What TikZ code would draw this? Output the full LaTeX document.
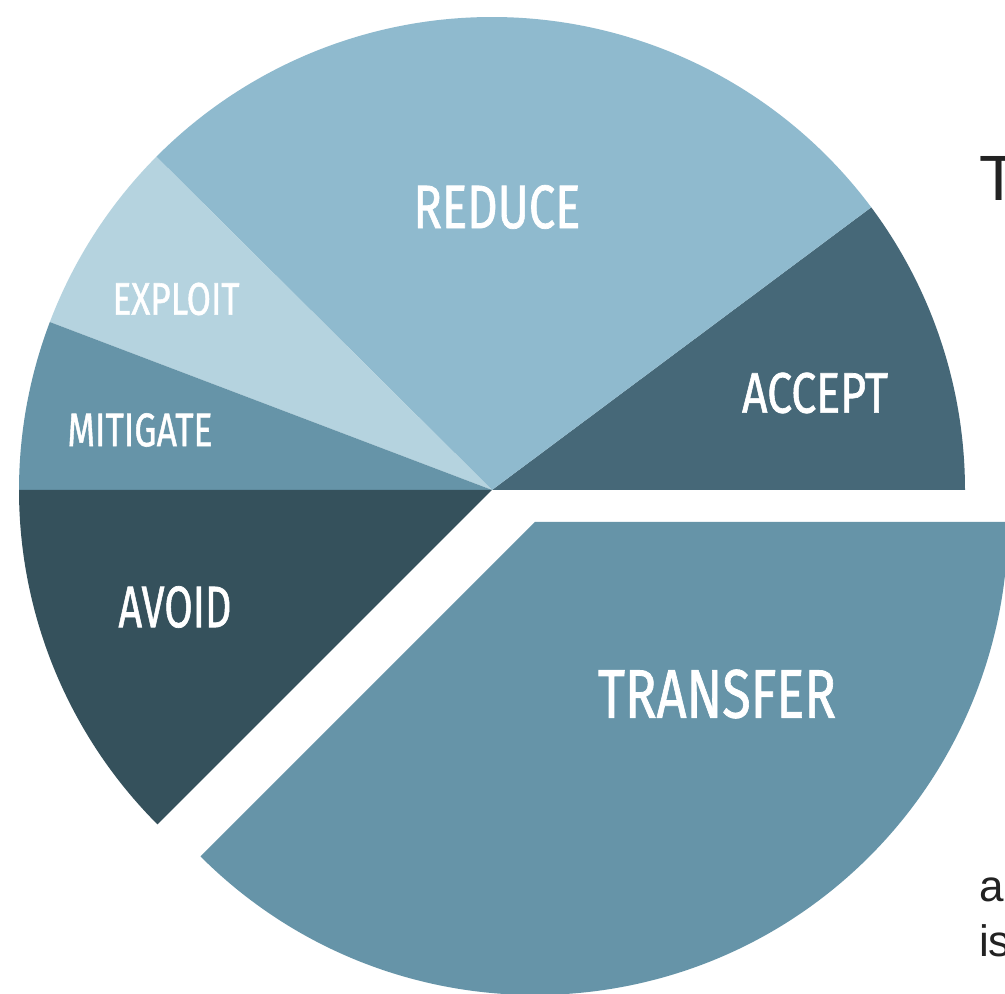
\documentclass[tikz,border=0pt]{standalone}
\usepackage{fontspec}
\setmainfont{Fira Sans}
\newfontfamily\lblfont{Fira Sans}[UprightFeatures={FakeBold=1.2}]
\newfontfamily\txtfont{Liberation Sans}
\definecolor{cReduce}{HTML}{8FBACE}
\definecolor{cExploit}{HTML}{B5D3DF}
\definecolor{cMitigate}{HTML}{6694A8}
\definecolor{cAvoid}{HTML}{35515C}
\definecolor{cAccept}{HTML}{466878}
\definecolor{cTransfer}{HTML}{6694A8}
\definecolor{cText}{HTML}{222222}
\newcommand{\lbl}[3]{\resizebox{#1pt}{#2pt}{\lblfont #3}}
\tikzset{
  slicelabel/.style={text=white, inner sep=0pt},
  sidetext/.style={text=cText, inner sep=0pt, anchor=base west},
}
\begin{document}
\begin{tikzpicture}[x=1pt,y=1pt]
\useasboundingbox (0,0) rectangle (1005,994);
\clip (0,0) rectangle (1005,994);
\fill[white] (0,0) rectangle (1005,994);
\def\R{473}
\coordinate (c) at (492,504);
\coordinate (t) at (535,472);
% slices
\fill[cAccept] (c) -- ++(0:\R) arc[start angle=0, end angle=36.7, radius=\R] -- cycle;
\fill[cReduce] (c) -- ++(36.7:\R) arc[start angle=36.7, end angle=135.2, radius=\R] -- cycle;
\fill[cExploit] (c) -- ++(135.2:\R) arc[start angle=135.2, end angle=159.2, radius=\R] -- cycle;
\fill[cMitigate] (c) -- ++(159.2:\R) arc[start angle=159.2, end angle=180, radius=\R] -- cycle;
\fill[cAvoid] (c) -- ++(180:\R) arc[start angle=180, end angle=225, radius=\R] -- cycle;
\fill[cTransfer] (t) -- ++(-135:\R) arc[start angle=-135, end angle=0, radius=\R] -- cycle;
% labels
\node[slicelabel] (reduce) at (497,787) {\lbl{167}{43}{REDUCE}};
\node[slicelabel] (exploit) at (176,695) {\lbl{127}{32}{EXPLOIT}};
\node[slicelabel] (mitigate) at (140,564) {\lbl{145}{33}{MITIGATE}};
\node[slicelabel] (accept) at (815,601) {\lbl{146}{40}{ACCEPT}};
\node[slicelabel] (avoid) at (175,387) {\lbl{113}{41}{AVOID}};
\node[slicelabel] (transfer) at (717,300) {\lbl{238}{48}{TRANSFER}};
% partial side texts
\node[sidetext] (tt) at (979,793) {\txtfont\fontsize{64}{70}\selectfont T};
\node[sidetext] (an) at (979,92) {\txtfont\fontsize{44}{50}\selectfont an};
\node[sidetext] (is) at (979,37) {\txtfont\fontsize{44}{50}\selectfont is};
\end{tikzpicture}
\end{document}
